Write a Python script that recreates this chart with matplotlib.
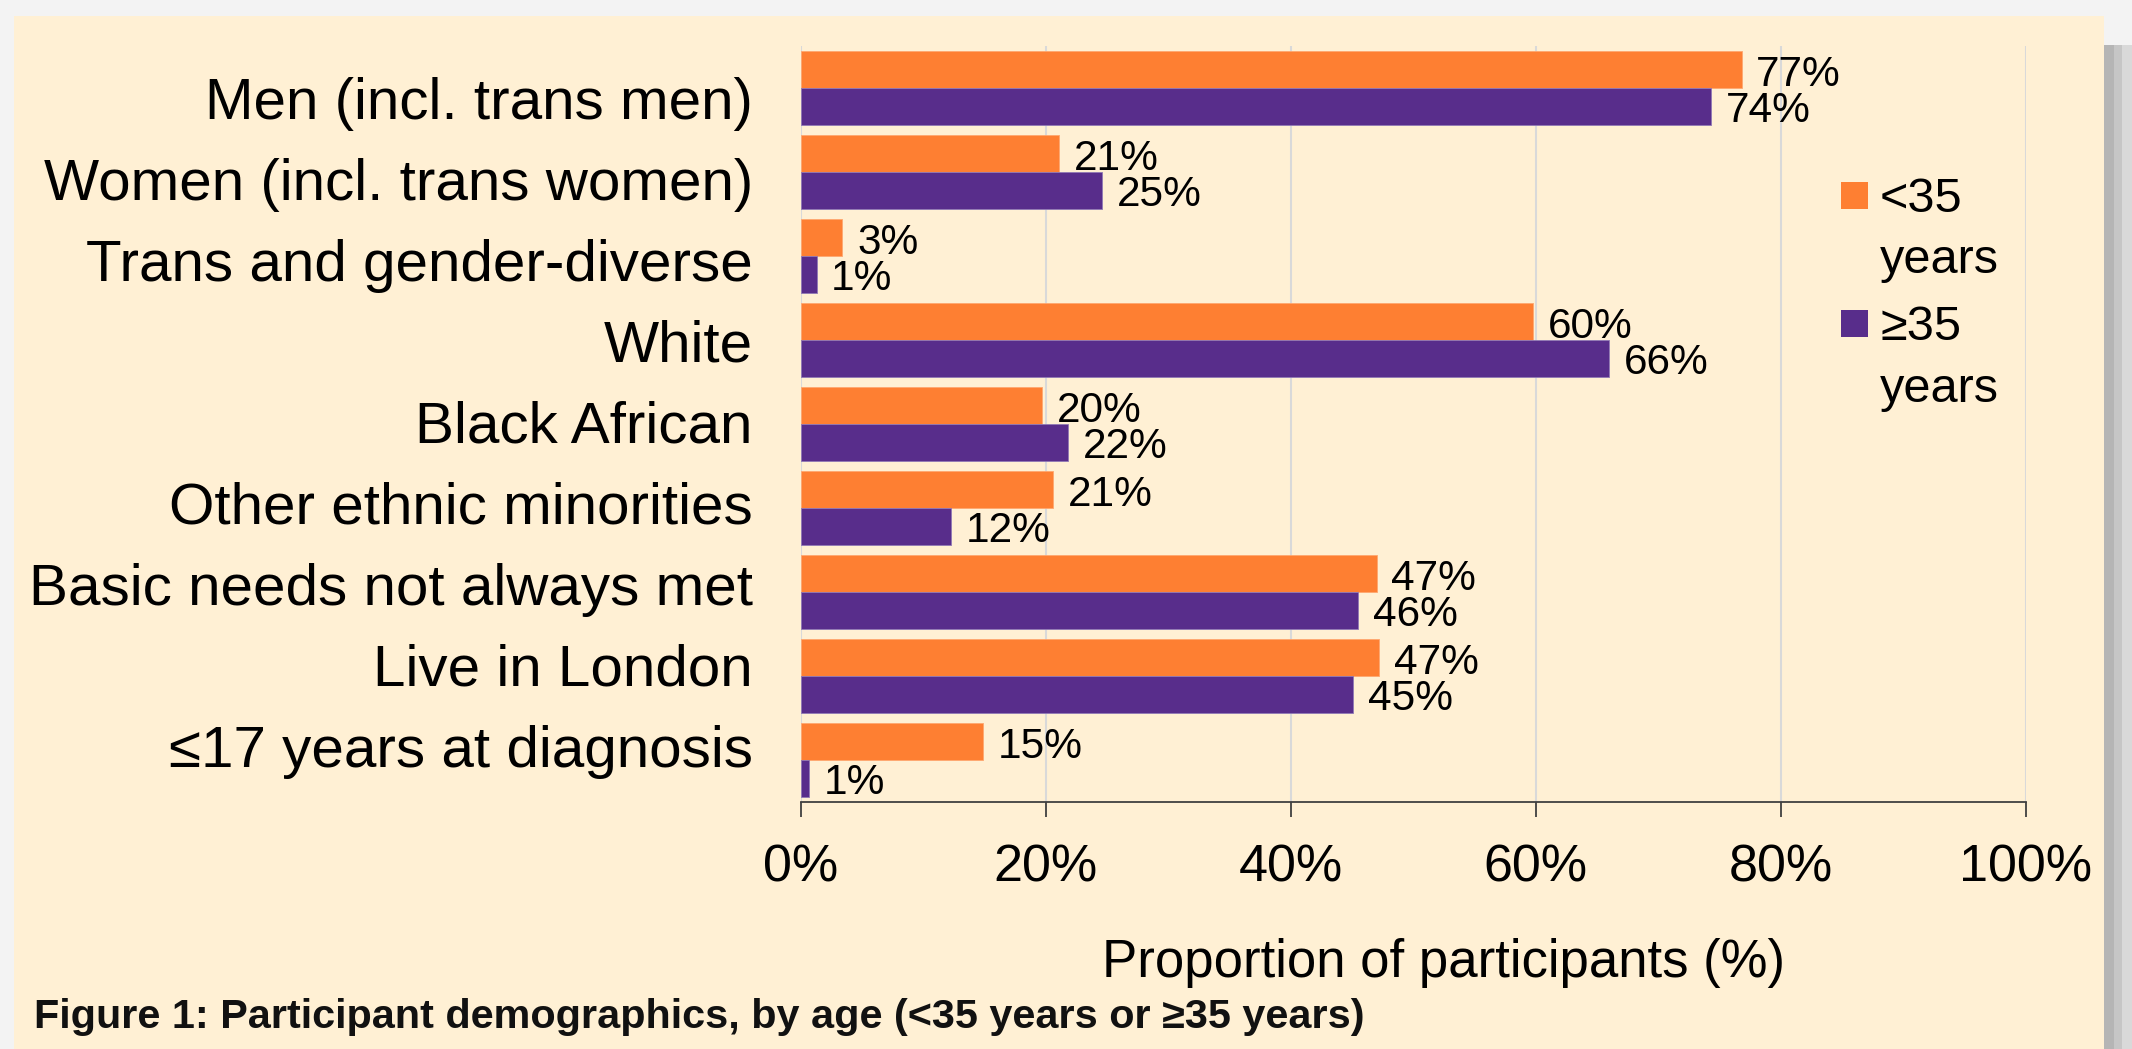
import numpy as np
import matplotlib
matplotlib.use('Agg')
import matplotlib.pyplot as plt
from matplotlib.patches import Rectangle
from matplotlib.legend_handler import HandlerPatch
from matplotlib.container import BarContainer

# ---------------- data ----------------
categories = ['Men (incl. trans men)', 'Women (incl. trans women)',
              'Trans and gender-diverse', 'White', 'Black African',
              'Other ethnic minorities', 'Basic needs not always met',
              'Live in London', '≤17 years at diagnosis']
under35 = [76.8, 21.1, 3.4, 59.8, 19.7, 20.6, 47.0, 47.2, 14.9]
over35 = [74.3, 24.6, 1.3, 66.0, 21.8, 12.3, 45.5, 45.1, 0.7]
under35_labels = ['77%', '21%', '3%', '60%', '20%', '21%', '47%', '47%', '15%']
over35_labels = ['74%', '25%', '1%', '66%', '22%', '12%', '46%', '45%', '1%']
series_names = ['<35\nyears', '≥35\nyears']
xticks = [0, 20, 40, 60, 80, 100]
xtick_labels = ['0%', '20%', '40%', '60%', '80%', '100%']
x_label = 'Proportion of participants (%)'
caption = 'Figure 1: Participant demographics, by age (<35 years or ≥35 years)'

# ---------------- style ----------------
W, H, DPI = 2132, 1049, 100
plt.rcParams['font.family'] = ['Liberation Sans', 'DejaVu Sans']
ORANGE = '#FE7F32'
PURPLE = '#582D8B'
CREAM = '#FFF0D4'

fig = plt.figure(figsize=(W / DPI, H / DPI), dpi=DPI, facecolor='#F3F3F3')

# cream panel and right-hand shadow
fig.patches.append(Rectangle((14 / W, 0), (2104 - 14) / W, (H - 16) / H,
                             transform=fig.transFigure, facecolor=CREAM,
                             edgecolor='none', zorder=-10))
for x0, x1, c in [(2104, 2114, '#B5B5B5'), (2114, 2122, '#C6C6C6'),
                  (2122, 2132, '#D9D9D9')]:
    fig.patches.append(Rectangle((x0 / W, 0), (x1 - x0) / W, (H - 45) / H,
                                 transform=fig.transFigure, facecolor=c,
                                 edgecolor='none', zorder=-10))

ax = fig.add_axes([800.7 / W, 1 - 802 / H, 1225.3 / W, 756 / H])
ax.set_facecolor('none')

n = len(categories)
y = np.arange(n)
bh = 0.436
bars1 = ax.barh(y - bh / 2, under35, height=bh, color=ORANGE,
                edgecolor='#FFA76F', linewidth=0.6, zorder=3)
bars2 = ax.barh(y + bh / 2, over35, height=bh, color=PURPLE,
                edgecolor='#9079B5', linewidth=0.6, zorder=3)

ax.set_xlim(0, 100)
ax.set_ylim(n - 0.5, -0.5)
ax.set_xticks(xticks, xtick_labels)
ax.grid(axis='x', color='#D9D9D9', linewidth=1.5, zorder=0)
ax.set_axisbelow(True)
for s in ['top', 'right', 'left']:
    ax.spines[s].set_visible(False)
ax.spines['bottom'].set_color('#404040')
ax.spines['bottom'].set_linewidth(1.3)
ax.tick_params(axis='x', length=10.5, width=1.3, color='#404040', pad=19.5,
               labelsize=37.5, labelcolor='black')

label_pos = 0.369 + 0.9638 * y
ax.set_yticks(label_pos, categories)
ax.tick_params(axis='y', length=0, pad=34.5, labelsize=42, labelcolor='black')
for t in ax.get_yticklabels():
    t.set_va('baseline')

# value labels
for yi, v, lab in zip(y - bh / 2, under35, under35_labels):
    ax.annotate(lab, (v, yi), xytext=(10.5, -11.6), textcoords='offset points',
                va='baseline', ha='left', fontsize=30.5, color='black')
for yi, v, lab in zip(y + bh / 2, over35, over35_labels):
    ax.annotate(lab, (v, yi), xytext=(10.5, -11.6), textcoords='offset points',
                va='baseline', ha='left', fontsize=30.5, color='black')

# x label
ax.set_xlabel(x_label, fontsize=38, color='black')
ax.xaxis.set_label_coords((1444 - 800.7) / 1225.3, (802 - 977) / 756)
ax.xaxis.label.set_va('baseline')


# legend: square aligned with first line of two-line label
def square(legend, orig_handle, xdescent, ydescent, width, height, fontsize):
    s = 0.55 * fontsize
    return Rectangle((0, 0.797 * fontsize), s, s)


def upd(handle, orig):
    handle.set_facecolor(orig.patches[0].get_facecolor())
    handle.set_edgecolor('none')


leg = ax.legend([bars1, bars2], series_names, loc='upper left',
                bbox_to_anchor=(1841 / W, 1 - 176.7 / H),
                bbox_transform=fig.transFigure, frameon=False, fontsize=35,
                handlelength=0.556, handleheight=0.55, handletextpad=0.247,
                borderpad=0, borderaxespad=0, labelspacing=0.447,
                handler_map={BarContainer: HandlerPatch(patch_func=square,
                                                        update_func=upd)})
for t in leg.get_texts():
    t.set_linespacing(1.476)

# caption
fig.text(34 / W, 1 - 1028 / H, caption, fontsize=29.8, fontweight='bold',
         va='baseline', ha='left', color='#111111')

fig.savefig('out.png', dpi=DPI, facecolor=fig.get_facecolor())
